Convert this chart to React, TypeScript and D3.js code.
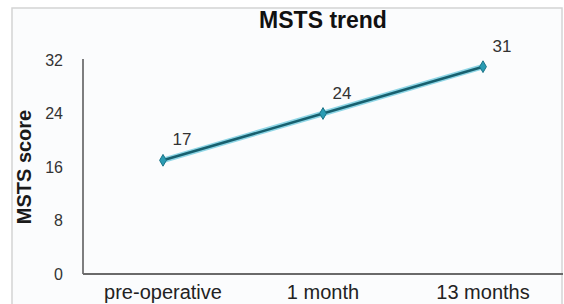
import React from "react";
import * as d3 from "d3";

const categories = ["pre-operative", "1 month", "13 months"];
const scores = [17, 24, 31];
const yTicks = [0, 8, 16, 24, 32];

const width = 564;
const height = 304;
const margin = { top: 60, right: 1, bottom: 30, left: 83 };
const font = "'Liberation Sans', Arial, sans-serif";

const App = () => {
  const innerRight = width - margin.right;
  const innerBottom = height - margin.bottom;

  const x = d3
    .scaleBand<string>()
    .domain(categories)
    .range([margin.left, innerRight])
    .padding(0);

  const y = d3.scaleLinear().domain([0, 32]).range([innerBottom, margin.top]);

  const cx = (c: string) => (x(c) ?? 0) + x.bandwidth() / 2;

  const line = d3
    .line<number>()
    .x((_, i) => cx(categories[i]))
    .y((d) => y(d));

  const diamond = d3.symbol().type(d3.symbolDiamond).size(40)();

  return (
    <svg
      width={width}
      height={height}
      style={{ position: "absolute", left: 0, top: 0, background: "#fff" }}
    >
      {/* chart frame */}
      <rect
        x={12}
        y={8}
        width={550}
        height={320}
        fill="#fbfcfd"
        stroke="#d4d4d4"
        strokeWidth={1.5}
      />

      {/* title */}
      <text
        x={(margin.left + innerRight) / 2}
        y={28}
        textAnchor="middle"
        fontFamily={font}
        fontWeight="bold"
        fontSize={23}
        fill="#111"
      >
        MSTS trend
      </text>

      {/* y axis label */}
      <text
        transform={`translate(31,${(margin.top + innerBottom) / 2}) rotate(-90)`}
        textAnchor="middle"
        fontFamily={font}
        fontWeight="bold"
        fontSize={20}
        fill="#1a1a1a"
      >
        MSTS score
      </text>

      {/* y ticks */}
      {yTicks.map((t) => (
        <text
          key={t}
          x={63}
          y={y(t)}
          dy="0.35em"
          textAnchor="end"
          fontFamily={font}
          fontSize={16}
          fill="#333"
        >
          {t}
        </text>
      ))}

      {/* axes */}
      <line
        x1={margin.left}
        x2={margin.left}
        y1={y(32) - 1}
        y2={innerBottom}
        stroke="#555"
        strokeWidth={1.5}
      />
      <line
        x1={margin.left}
        x2={innerRight}
        y1={innerBottom}
        y2={innerBottom}
        stroke="#6a6a6a"
        strokeWidth={2}
      />

      {/* x tick labels */}
      {categories.map((c) => (
        <text
          key={c}
          x={cx(c)}
          y={299}
          textAnchor="middle"
          fontFamily={font}
          fontSize={20}
          fill="#222"
        >
          {c}
        </text>
      ))}

      {/* series */}
      <path
        d={line(scores) ?? ""}
        fill="none"
        stroke="#8fd6e6"
        strokeWidth={5.5}
        strokeLinecap="round"
      />
      <path
        d={line(scores) ?? ""}
        fill="none"
        stroke="#17606f"
        strokeWidth={2.5}
      />
      {scores.map((s, i) => (
        <path
          key={i}
          d={diamond ?? ""}
          transform={`translate(${cx(categories[i])},${y(s)})`}
          fill="#2a9cb3"
          stroke="#1c7488"
          strokeWidth={1}
        />
      ))}
      {scores.map((s, i) => (
        <text
          key={`l${i}`}
          x={cx(categories[i]) + 19}
          y={y(s) - 15}
          textAnchor="middle"
          fontFamily={font}
          fontSize={17}
          fill="#333"
        >
          {s}
        </text>
      ))}
    </svg>
  );
};

export default App;
